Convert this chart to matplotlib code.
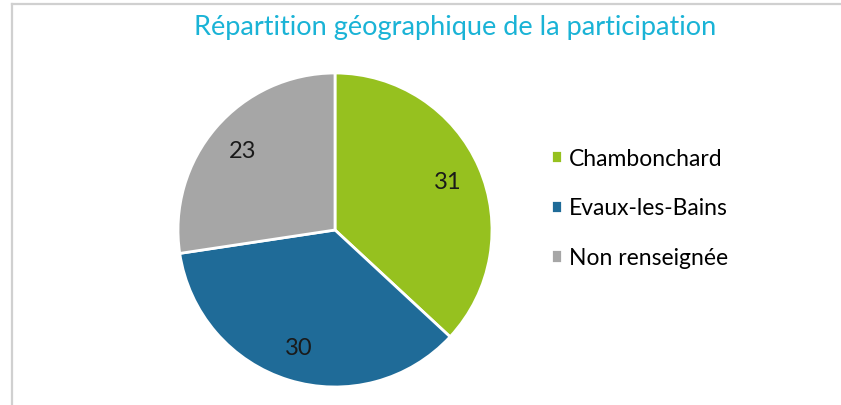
import matplotlib.pyplot as plt
from matplotlib.lines import Line2D

# --- Data ---
communes = ["Chambonchard", "Evaux-les-Bains", "Non renseignée"]
participants = [31, 30, 23]
colors = ["#96C11F", "#1F6B98", "#A6A6A6"]
title = "Répartition géographique de la participation"

plt.rcParams['font.family'] = ['Lato', 'DejaVu Sans']

fig = plt.figure(figsize=(8.41, 4.06), dpi=100)
W, H = 841, 406

# light grey frame (chart cropped from a larger one)
fig.add_artist(Line2D([12 / W, 1], [1 - 5 / H, 1 - 5 / H], color="#D0D0D0", lw=1.6))
fig.add_artist(Line2D([12 / W, 12 / W], [0, 1 - 5 / H], color="#D0D0D0", lw=1.6))

# pie axes: centre ~ (335, 231) px, radius ~157 px
cx, cy, r = 335, 231, 157
ax = fig.add_axes([(cx - r) / W, (H - cy - r) / H, 2 * r / W, 2 * r / H])
total = sum(participants)
wedges, _, autotexts = ax.pie(
    participants, colors=colors, startangle=90, counterclock=False,
    autopct=lambda p: f"{round(p * total / 100)}", pctdistance=0.78,
    wedgeprops=dict(edgecolor="white", linewidth=2),
    textprops=dict(fontsize=17, color="#1A1A1A"),
)
ax.set_xlim(-1, 1)
ax.set_ylim(-1, 1)
ax.set_aspect("equal")

fig.text(455 / W, 1 - 28 / H, title, ha="center", va="center",
         fontsize=19.5, color="#1AB3D6")

fig.legend(wedges, communes, loc="center left",
           bbox_to_anchor=(530 / W, 1 - 209 / H), frameon=False,
           fontsize=16.5, handlelength=0.5, handleheight=0.5,
           handletextpad=0.3, labelspacing=1.25)

fig.savefig("out.png", dpi=100)
